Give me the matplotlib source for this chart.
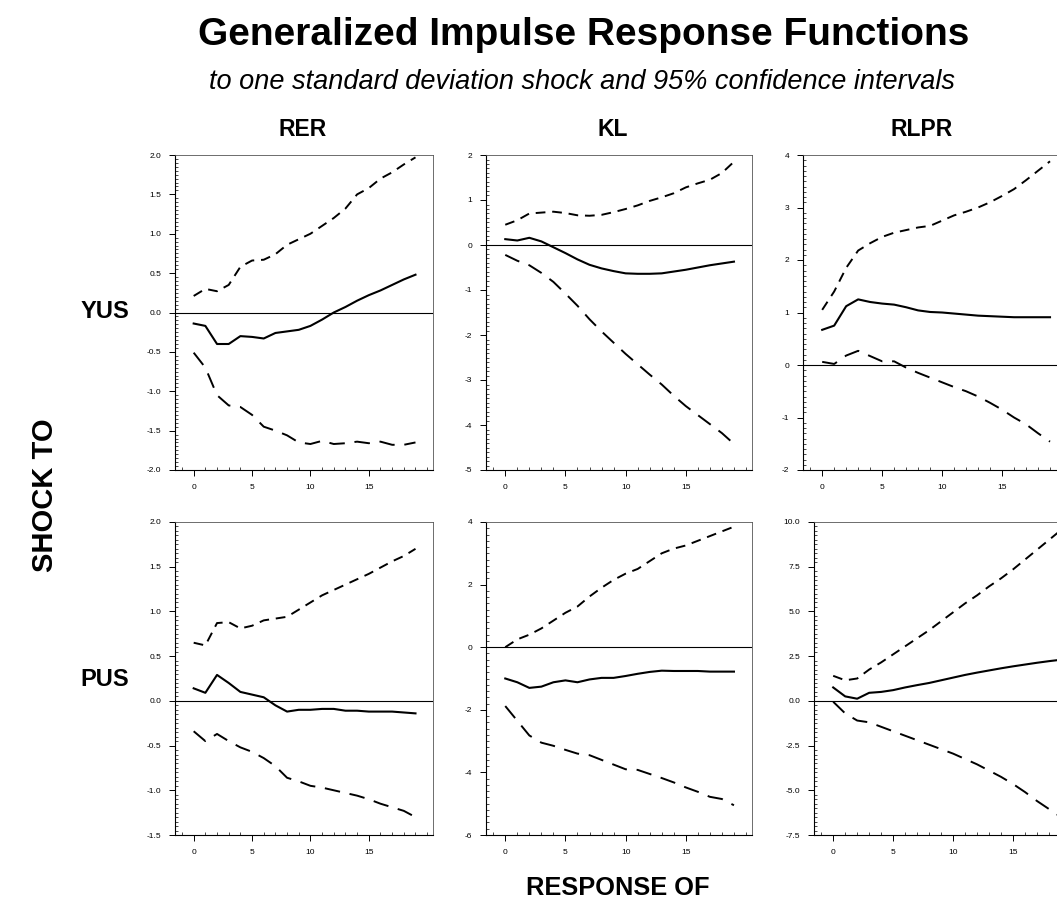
"""
Generalized impulse response functions, 2 x 3 grid.
"""
import numpy as np
import matplotlib
matplotlib.use('Agg')
import matplotlib.pyplot as plt
from matplotlib.ticker import FixedLocator, MultipleLocator, FormatStrFormatter

plt.rcParams['font.family'] = ['Liberation Sans', 'DejaVu Sans']

W, H = 1057, 915

steps = np.arange(20)
shocks = ['YUS', 'PUS']
responses = ['RER', 'KL', 'RLPR']
xticks = [0, 5, 10, 15]

# YUS shock
rer_yus = [-0.14, -0.17, -0.40, -0.40, -0.30, -0.31, -0.33, -0.26, -0.24, -0.22,
           -0.17, -0.09, 0.00, 0.07, 0.15, 0.22, 0.28, 0.35, 0.42, 0.48]
rer_yus_hi = [0.21, 0.30, 0.27, 0.35, 0.58, 0.66, 0.67, 0.74, 0.86, 0.93,
              1.00, 1.10, 1.20, 1.32, 1.50, 1.58, 1.70, 1.78, 1.88, 1.97]
rer_yus_lo = [-0.51, -0.70, -1.05, -1.18, -1.20, -1.30, -1.45, -1.50, -1.56, -1.65,
              -1.67, -1.63, -1.67, -1.66, -1.64, -1.66, -1.64, -1.68, -1.68, -1.65]

kl_yus = [0.13, 0.10, 0.16, 0.08, -0.05, -0.18, -0.32, -0.44, -0.52, -0.58,
          -0.63, -0.64, -0.64, -0.63, -0.59, -0.55, -0.50, -0.45, -0.41, -0.37]
kl_yus_hi = [0.45, 0.55, 0.70, 0.72, 0.74, 0.71, 0.66, 0.65, 0.67, 0.73,
             0.80, 0.88, 0.98, 1.06, 1.15, 1.28, 1.37, 1.45, 1.60, 1.85]
kl_yus_lo = [-0.22, -0.35, -0.45, -0.62, -0.82, -1.08, -1.35, -1.65, -1.92, -2.17,
             -2.42, -2.65, -2.88, -3.10, -3.35, -3.58, -3.78, -3.98, -4.18, -4.42]

rlpr_yus = [0.67, 0.75, 1.12, 1.25, 1.20, 1.17, 1.15, 1.10, 1.04, 1.01,
            1.00, 0.98, 0.96, 0.94, 0.93, 0.92, 0.91, 0.91, 0.91, 0.91]
rlpr_yus_hi = [1.05, 1.40, 1.85, 2.18, 2.32, 2.44, 2.52, 2.57, 2.62, 2.65,
               2.75, 2.85, 2.92, 3.00, 3.10, 3.22, 3.35, 3.52, 3.70, 3.88]
rlpr_yus_lo = [0.06, 0.02, 0.18, 0.27, 0.17, 0.07, 0.07, -0.05, -0.15, -0.24,
               -0.33, -0.42, -0.50, -0.60, -0.72, -0.85, -1.00, -1.13, -1.30, -1.46]

# PUS shock
rer_pus = [0.14, 0.09, 0.29, 0.20, 0.10, 0.07, 0.04, -0.05, -0.12, -0.10,
           -0.10, -0.09, -0.09, -0.11, -0.11, -0.12, -0.12, -0.12, -0.13, -0.14]
rer_pus_hi = [0.65, 0.62, 0.87, 0.88, 0.81, 0.84, 0.90, 0.92, 0.94, 1.02,
              1.10, 1.18, 1.24, 1.30, 1.36, 1.42, 1.49, 1.56, 1.62, 1.70]
rer_pus_lo = [-0.34, -0.45, -0.37, -0.45, -0.52, -0.57, -0.64, -0.73, -0.86, -0.90,
              -0.95, -0.97, -1.00, -1.03, -1.06, -1.10, -1.15, -1.19, -1.23, -1.30]

kl_pus = [-1.00, -1.12, -1.30, -1.26, -1.12, -1.06, -1.12, -1.03, -0.98, -0.98,
          -0.92, -0.85, -0.79, -0.75, -0.76, -0.76, -0.76, -0.78, -0.78, -0.78]
kl_pus_hi = [0.00, 0.25, 0.40, 0.60, 0.85, 1.10, 1.30, 1.62, 1.90, 2.15,
             2.35, 2.50, 2.75, 3.00, 3.15, 3.25, 3.40, 3.55, 3.70, 3.85]
kl_pus_lo = [-1.88, -2.35, -2.82, -3.05, -3.15, -3.28, -3.40, -3.45, -3.60, -3.75,
             -3.90, -3.92, -4.05, -4.18, -4.32, -4.48, -4.62, -4.78, -4.85, -5.05]

rlpr_pus = [0.75, 0.25, 0.12, 0.45, 0.50, 0.60, 0.75, 0.88, 1.00, 1.15,
            1.30, 1.45, 1.58, 1.70, 1.82, 1.93, 2.03, 2.13, 2.22, 2.30]
rlpr_pus_hi = [1.40, 1.15, 1.25, 1.75, 2.15, 2.60, 3.05, 3.50, 3.95, 4.45,
               4.95, 5.45, 5.90, 6.40, 6.85, 7.35, 7.90, 8.45, 9.00, 9.55]
rlpr_pus_lo = [-0.05, -0.70, -1.10, -1.20, -1.45, -1.70, -1.95, -2.20, -2.45, -2.70,
               -2.95, -3.25, -3.55, -3.90, -4.25, -4.65, -5.10, -5.60, -6.05, -6.50]

panels = [
    [(rer_yus, rer_yus_hi, rer_yus_lo), (kl_yus, kl_yus_hi, kl_yus_lo),
     (rlpr_yus, rlpr_yus_hi, rlpr_yus_lo)],
    [(rer_pus, rer_pus_hi, rer_pus_lo), (kl_pus, kl_pus_hi, kl_pus_lo),
     (rlpr_pus, rlpr_pus_hi, rlpr_pus_lo)],
]

# y-axis settings per panel: (ymin, ymax, major, minor, format)
yaxes = [
    [(-2.0, 2.0, 0.5, 0.05, '%.1f'), (-5, 2, 1, 0.1, '%d'), (-2, 4, 1, 0.1, '%d')],
    [(-1.5, 2.0, 0.5, 0.05, '%.1f'), (-6, 4, 2, 0.2, '%d'), (-7.5, 10, 2.5, 0.25, '%.1f')],
]

# axes boxes in pixels: left, top, right, bottom
boxes = [
    [(175, 155, 433, 470), (486, 155, 752, 470), (803, 155, 1068, 470)],
    [(175, 522, 433, 835), (486, 522, 752, 835), (814, 522, 1079, 835)],
]


def px_rect(l, t, r, b):
    return [l / W, 1 - b / H, (r - l) / W, (b - t) / H]


fig = plt.figure(figsize=(W / 100, H / 100), dpi=100)

for i in range(2):
    for j in range(3):
        ax = fig.add_axes(px_rect(*boxes[i][j]))
        mid, hi, lo = panels[i][j]
        ymin, ymax, maj, mnr, fmt = yaxes[i][j]
        ax.axhline(0, color='black', lw=0.8)
        ax.plot(steps, mid, color='black', lw=1.5)
        ax.plot(steps, hi, color='black', lw=1.4, dashes=(5, 3.5))
        ax.plot(steps, lo, color='black', lw=1.4, dashes=(8, 5))
        ax.set_xlim(-1.6, 20.5)
        ax.set_ylim(ymin, ymax)
        ax.xaxis.set_major_locator(FixedLocator(xticks))
        ax.xaxis.set_minor_locator(MultipleLocator(1))
        ax.yaxis.set_major_locator(MultipleLocator(maj))
        ax.yaxis.set_minor_locator(MultipleLocator(mnr))
        ax.yaxis.set_major_formatter(FormatStrFormatter(fmt))
        ax.tick_params(which='major', direction='out', length=4, width=0.7,
                       labelsize=6, pad=6)
        ax.tick_params(which='minor', direction='in', length=2, width=0.5)
        for side in ['top', 'right']:
            ax.spines[side].set_linewidth(0.6)
            ax.spines[side].set_color('#555555')
        for side in ['left', 'bottom']:
            ax.spines[side].set_linewidth(0.8)

# titles and labels
fig.text(584 / W, 1 - 35 / H, 'Generalized Impulse Response Functions',
         ha='center', va='center', fontsize=28, fontweight='bold')
fig.text(582 / W, 1 - 82 / H,
         'to one standard deviation shock and 95% confidence intervals',
         ha='center', va='center', fontsize=19.5, style='italic')
for j, name in enumerate(responses):
    cx = [303, 613, 922][j]
    fig.text(cx / W, 1 - 130 / H, name, ha='center', va='center',
             fontsize=16.5, fontweight='bold')
for i, name in enumerate(shocks):
    cy = [312, 680][i]
    fig.text(105 / W, 1 - cy / H, name, ha='center', va='center',
             fontsize=17, fontweight='bold')
fig.text(45 / W, 1 - 495 / H, 'SHOCK TO', ha='center', va='center',
         rotation=90, fontsize=21, fontweight='bold')
fig.text(618 / W, 1 - 888 / H, 'RESPONSE OF', ha='center', va='center',
         fontsize=18.3, fontweight='bold')

fig.savefig('out.png', dpi=100)
